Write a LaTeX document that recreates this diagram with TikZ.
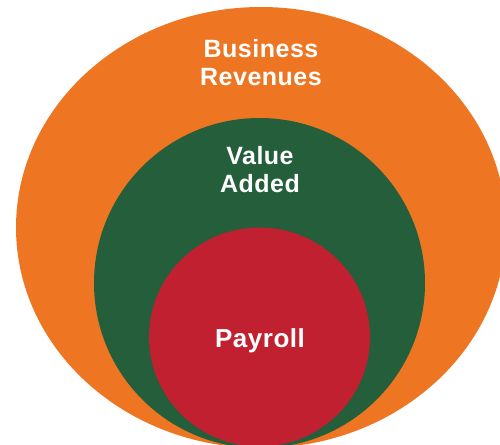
\documentclass[tikz,border=0pt]{standalone}
\usepackage{fontspec}
\setmainfont{Liberation Sans}[LetterSpace=2]
\definecolor{revorange}{RGB}{238,118,35}
\definecolor{addgreen}{RGB}{36,94,58}
\definecolor{payred}{RGB}{193,32,48}
\tikzset{
  label text/.style={text=white, font=\bfseries\fontsize{25}{28}\selectfont, align=center, anchor=base}
}
\begin{document}
\begin{tikzpicture}[x=1pt, y=-1pt]

  \useasboundingbox (0,0) rectangle (500,444);

  \begin{scope}
    \clip (0,0) rectangle (500,444);
    \fill[revorange] (261,227.5) ellipse (245 and 220.5);
    \fill[addgreen] (259.5,283) ellipse (165.5 and 165);
    \fill[payred] (259.5,337) ellipse (110.5 and 109.5);
  \end{scope}

  % base anchor sits on the last line
  \node[label text] (revenues) at (261,85) {Business\\Revenues};
  \node[label text] (added) at (260,192) {Value\\Added};
  \node[label text, font=\bfseries\fontsize{26}{28}\selectfont] (payroll) at (260,347) {Payroll};

\end{tikzpicture}
\end{document}
